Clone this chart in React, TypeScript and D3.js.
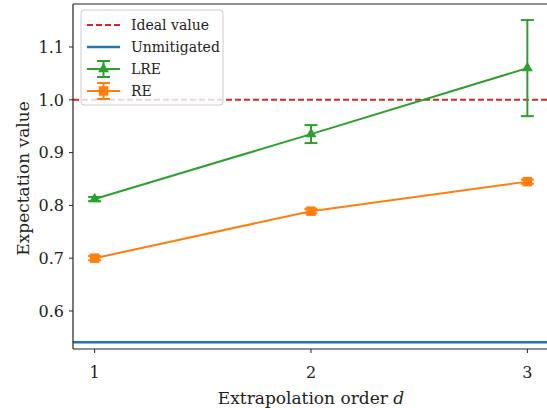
import React from "react";
import * as d3 from "d3";

// Extrapolation orders and measured expectation values
const orders = [1, 2, 3];
const lreValues = [0.812, 0.935, 1.06];
const lreErrors = [0.004, 0.017, 0.091];
const reValues = [0.7, 0.789, 0.845];
const reErrors = [0.004, 0.004, 0.004];
const idealValue = 1.0;
const unmitigatedValue = 0.541;
const yTicks = [0.6, 0.7, 0.8, 0.9, 1.0, 1.1];
const xTicks = [1, 2, 3];

const W = 547;
const H = 408;
const margin = { left: 73, top: 4, right: 549, bottom: 349 };
const FONT = "'DejaVu Serif', 'Liberation Serif', serif";

const C = {
  blue: "#1f77b4",
  orange: "#ff7f0e",
  green: "#2ca02c",
  red: "#d62728",
};

export default function App() {
  const x = d3.scaleLinear().domain([0.9, 3.1]).range([margin.left, margin.right]);
  const y = d3.scaleLinear().domain([0.528, 1.1814]).range([margin.bottom, margin.top]);
  const line = d3
    .line<number>()
    .x((_, i) => x(orders[i]))
    .y((v) => y(v));

  const tri = d3.symbol().type(d3.symbolTriangle).size(52)();
  const sq = d3.symbol().type(d3.symbolSquare).size(90)();
  const cap = 6.5;

  const errorBars = (vals: number[], errs: number[], color: string, marker: string) =>
    vals.map((v, i) => {
      const cx = x(orders[i]);
      const y0 = y(v - errs[i]);
      const y1 = y(v + errs[i]);
      return (
        <g key={i}>
          <line x1={cx} x2={cx} y1={y0} y2={y1} stroke={color} strokeWidth={2} />
          <line x1={cx - cap} x2={cx + cap} y1={y0} y2={y0} stroke={color} strokeWidth={2} />
          <line x1={cx - cap} x2={cx + cap} y1={y1} y2={y1} stroke={color} strokeWidth={2} />
          <path d={marker} transform={`translate(${cx},${y(v)})`} fill={color} />
        </g>
      );
    });

  const legendItems = [
    { label: "Ideal value", kind: "dash", color: C.red },
    { label: "Unmitigated", kind: "line", color: C.blue },
    { label: "LRE", kind: "err", color: C.green, marker: tri },
    { label: "RE", kind: "err", color: C.orange, marker: sq },
  ];
  const lx = 81;
  const ly = 10;

  return (
    <svg width={W} height={H} style={{ position: "absolute", left: 0, top: 0 }}>
      <rect width={W} height={H} fill="#fff" />
      <clipPath id="plotClip">
        <rect x={margin.left} y={margin.top} width={margin.right - margin.left} height={margin.bottom - margin.top} />
      </clipPath>
      <g clipPath="url(#plotClip)">
        <line
          x1={margin.left}
          x2={margin.right}
          y1={y(idealValue)}
          y2={y(idealValue)}
          stroke={C.red}
          strokeWidth={2}
          strokeDasharray="6,3"
        />
        <line
          x1={margin.left}
          x2={margin.right}
          y1={y(unmitigatedValue)}
          y2={y(unmitigatedValue)}
          stroke={C.blue}
          strokeWidth={2.5}
        />
        <path d={line(lreValues) ?? ""} fill="none" stroke={C.green} strokeWidth={2} />
        {errorBars(lreValues, lreErrors, C.green, tri)}
        <path d={line(reValues) ?? ""} fill="none" stroke={C.orange} strokeWidth={2} />
        {errorBars(reValues, reErrors, C.orange, sq)}
      </g>

      {/* spines */}
      <g stroke="#222" strokeWidth={1.2} fill="none">
        <line x1={margin.left} x2={margin.left} y1={margin.top} y2={margin.bottom} />
        <line x1={margin.left} x2={margin.right} y1={margin.bottom} y2={margin.bottom} />
        <line x1={margin.left} x2={margin.right} y1={margin.top} y2={margin.top} />
      </g>

      {/* y axis */}
      {yTicks.map((t) => (
        <g key={t}>
          <line x1={margin.left - 4} x2={margin.left} y1={y(t)} y2={y(t)} stroke="#222" strokeWidth={1} />
          <text x={margin.left - 9} y={y(t)} dy="0.36em" textAnchor="end" fontFamily={FONT} fontSize={16} fill="#222">
            {t.toFixed(1)}
          </text>
        </g>
      ))}
      <text
        transform={`translate(29,${(margin.top + margin.bottom) / 2 + 2}) rotate(-90)`}
        textAnchor="middle"
        fontFamily={FONT}
        fontSize={17}
        fill="#222"
      >
        Expectation value
      </text>

      {/* x axis */}
      {xTicks.map((t) => (
        <g key={t}>
          <line x1={x(t)} x2={x(t)} y1={margin.bottom} y2={margin.bottom + 4} stroke="#222" strokeWidth={1} />
          <text x={x(t)} y={margin.bottom + 29} textAnchor="middle" fontFamily={FONT} fontSize={16} fill="#222">
            {t}
          </text>
        </g>
      ))}
      <text x={311} y={404} textAnchor="middle" fontFamily={FONT} fontSize={17} fill="#222">
        Extrapolation order <tspan fontStyle="italic">d</tspan>
      </text>

      {/* legend */}
      <rect x={lx} y={ly} width={142} height={95} rx={3} fill="#fff" fillOpacity={0.8} stroke="#ccc" strokeWidth={1} />
      {legendItems.map((it, i) => {
        const cy = ly + 15 + i * 22;
        const hx0 = lx + 6;
        const hx1 = lx + 39;
        const hm = (hx0 + hx1) / 2;
        return (
          <g key={it.label}>
            {it.kind === "dash" && (
              <line x1={hx0} x2={hx1} y1={cy} y2={cy} stroke={it.color} strokeWidth={2} strokeDasharray="6,3" />
            )}
            {it.kind === "line" && <line x1={hx0} x2={hx1} y1={cy} y2={cy} stroke={it.color} strokeWidth={2.5} />}
            {it.kind === "err" && (
              <g>
                <line x1={hx0} x2={hx1} y1={cy} y2={cy} stroke={it.color} strokeWidth={2} />
                <line x1={hm} x2={hm} y1={cy - 8} y2={cy + 8} stroke={it.color} strokeWidth={2} />
                <line x1={hm - cap} x2={hm + cap} y1={cy - 8} y2={cy - 8} stroke={it.color} strokeWidth={2} />
                <line x1={hm - cap} x2={hm + cap} y1={cy + 8} y2={cy + 8} stroke={it.color} strokeWidth={2} />
                <path d={it.marker} transform={`translate(${hm},${cy})`} fill={it.color} />
              </g>
            )}
            <text x={lx + 50} y={cy} dy="0.36em" fontFamily={FONT} fontSize={14} fill="#222">
              {it.label}
            </text>
          </g>
        );
      })}
    </svg>
  );
}
